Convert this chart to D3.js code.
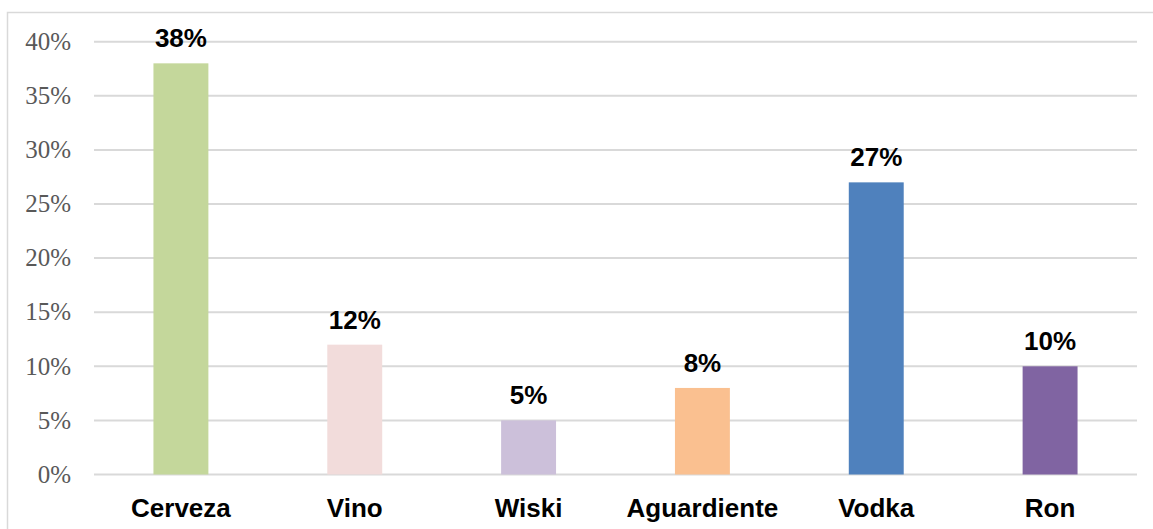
<!DOCTYPE html>
<html lang="es">
<head>
    <meta charset="UTF-8">
    <title>Consumo por bebida</title>
    <script src="https://d3js.org/d3.v7.min.js"></script>
    <style>
        body { margin: 0; background: #fff; }
        .grid line { stroke: #d9d9d9; stroke-width: 2; }
        .ylab { font-family: "Liberation Serif", serif; font-size: 25px; fill: #595959; }
        .xlab { font-family: "Liberation Sans", Arial, sans-serif; font-size: 26px; font-weight: bold; fill: #000; }
        .vlab { font-family: "Liberation Sans", Arial, sans-serif; font-size: 26px; font-weight: bold; fill: #000; }
    </style>
</head>
<body>
    <svg id="chart"></svg>

    <script>
        const categories = ["Cerveza", "Vino", "Wiski", "Aguardiente", "Vodka", "Ron"];
        const values = [38, 12, 5, 8, 27, 10];
        const colors = ["#c4d79b", "#f2dcdb", "#ccc0da", "#fac090", "#4f81bd", "#8064a2"];
        const yTicks = [0, 5, 10, 15, 20, 25, 30, 35, 40];

        const width = 1153, height = 529;
        const plotLeft = 94, plotRight = 1137, plotTop = 41.7, plotBottom = 474.5;

        const svg = d3.select("#chart").attr("width", width).attr("height", height);

        // chart frame (only top and left edges are in view)
        svg.append("rect")
            .attr("x", 7.5).attr("y", 12.5)
            .attr("width", width).attr("height", height)
            .attr("fill", "none").attr("stroke", "#d9d9d9").attr("stroke-width", 1.5);

        const x = d3.scaleBand().domain(categories).range([plotLeft, plotRight])
            .paddingInner(0.684).paddingOuter(0.342);
        const y = d3.scaleLinear().domain([0, 40]).range([plotBottom, plotTop]);

        svg.append("g").attr("class", "grid")
            .selectAll("line").data(yTicks).enter().append("line")
            .attr("x1", plotLeft).attr("x2", plotRight)
            .attr("y1", d => y(d)).attr("y2", d => y(d));

        svg.append("g").selectAll("text").data(yTicks).enter().append("text")
            .attr("class", "ylab")
            .attr("x", 71).attr("y", d => y(d))
            .attr("dy", "0.33em")
            .attr("text-anchor", "end")
            .text(d => d + "%");

        svg.append("g").selectAll("rect").data(values).enter().append("rect")
            .attr("x", (d, i) => x(categories[i]))
            .attr("y", d => y(d))
            .attr("width", x.bandwidth())
            .attr("height", d => y(0) - y(d))
            .attr("fill", (d, i) => colors[i]);

        svg.append("g").selectAll("text").data(values).enter().append("text")
            .attr("class", "vlab")
            .attr("x", (d, i) => x(categories[i]) + x.bandwidth() / 2)
            .attr("y", d => y(d) - 16)
            .attr("text-anchor", "middle")
            .text(d => d + "%");

        svg.append("g").selectAll("text").data(categories).enter().append("text")
            .attr("class", "xlab")
            .attr("x", d => x(d) + x.bandwidth() / 2)
            .attr("y", 517)
            .attr("text-anchor", "middle")
            .text(d => d);
    </script>
</body>
</html>
